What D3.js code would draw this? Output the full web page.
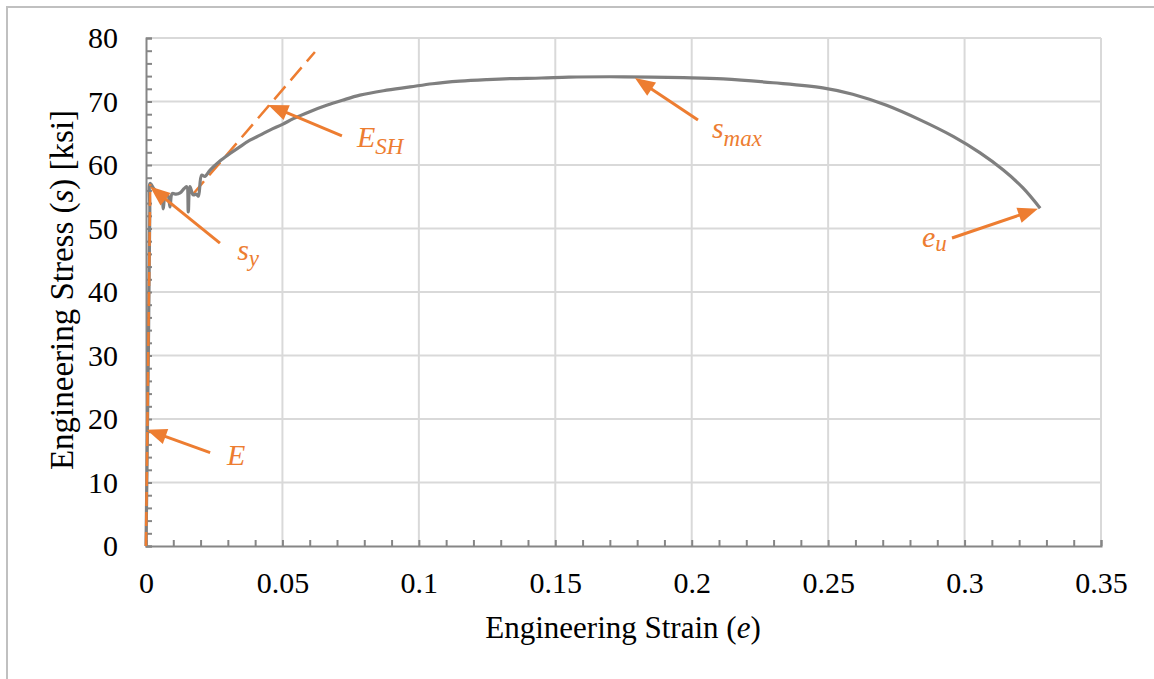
<!DOCTYPE html>
<html>
<head>
<meta charset="utf-8">
<script src="https://cdn.jsdelivr.net/npm/d3@7/dist/d3.min.js"></script>
<style>
  html, body { margin: 0; padding: 0; background: #ffffff; }
  svg { display: block; }
  text { font-family: "Liberation Serif", "Times New Roman", serif; }
</style>
</head>
<body>
<svg id="chart" width="1154" height="679"></svg>
<script>
// Engineering stress-strain curve of a steel coupon
const strain = [0, 0.0003, 0.0006, 0.0009, 0.0012, 0.0014, 0.0015, 0.0030, 0.0045, 0.0057,
  0.0063, 0.0070, 0.0080, 0.0088, 0.0096, 0.0110, 0.0125, 0.0140, 0.0149, 0.0155,
  0.0161, 0.0173, 0.0185, 0.0192, 0.0204, 0.0216, 0.0235, 0.0270, 0.0308, 0.0345,
  0.0381, 0.0418, 0.0454, 0.0500, 0.0540, 0.0600, 0.0662, 0.0720, 0.0784, 0.0870,
  0.0968, 0.1050, 0.1150, 0.1250, 0.1334, 0.1450, 0.1550, 0.1700, 0.1850, 0.1970,
  0.2115, 0.2298, 0.2480, 0.2590, 0.2714, 0.2837, 0.2958, 0.3057, 0.3142, 0.3214, 0.3277];
const stress = [0, 10, 21, 32, 45, 53, 57.1, 56.2, 55.6, 55.5,
  53.1, 55.0, 55.2, 53.4, 55.5, 55.4, 55.6, 56.3, 56.6, 52.6,
  56.6, 55.3, 55.4, 55.1, 58.4, 58.2, 59.2, 60.6, 61.8, 62.9,
  63.9, 64.7, 65.5, 66.4, 67.3, 68.4, 69.4, 70.2, 71.0, 71.7,
  72.3, 72.8, 73.2, 73.45, 73.6, 73.7, 73.85, 73.9, 73.85, 73.75,
  73.55, 72.95, 72.15, 71.15, 69.4, 67.1, 64.5, 61.9, 59.2, 56.4, 53.2];

// Elastic modulus (E) and strain-hardening modulus (E_SH) reference lines
const elasticLine = [[0, 0], [0.00155, 57]];
const hardeningLine = [[0.0172, 55.4], [0.0619, 77.8]];

// Axis ticks
const xTicks = [0, 0.05, 0.1, 0.15, 0.2, 0.25, 0.3, 0.35];
const xTickLabels = ["0", "0.05", "0.1", "0.15", "0.2", "0.25", "0.3", "0.35"];
const yTicks = [0, 10, 20, 30, 40, 50, 60, 70, 80];
const xMinorTicks = d3.range(0, 36).map(i => i / 100);
const yMinorTicks = d3.range(0, 41).map(i => i * 2);

// Callouts: arrow tail/tip and label anchor, in strain/stress units
const callouts = [
  { main: "E", sub: "",    tail: [0.0235, 14.7], tip: [0.00026, 18.3], at: [0.0297, 12.76], subDy: 0 },
  { main: "s", sub: "y",   tail: [0.0271, 47.7], tip: [0.00147, 56.6], at: [0.0334, 45.04], subDy: 6 },
  { main: "E", sub: "SH",  tail: [0.0718, 64.6], tip: [0.0448, 69.45], at: [0.0773, 62.83], subDy: 7 },
  { main: "s", sub: "max", tail: [0.2023, 67.1], tip: [0.1792, 73.7],  at: [0.2074, 64.25], subDy: 8 },
  { main: "e", sub: "u",   tail: [0.2954, 48.5], tip: [0.3269, 53.1],  at: [0.2844, 47.09], subDy: 4 }
];

const svg = d3.select("#chart");
const ORANGE = "#ED7D31";
const GREY = "#7f7f7f";
const AXIS = "#868686";
const GRID = "#d9d9d9";

// outer frame
svg.append("rect")
  .attr("x", 7).attr("y", 7).attr("width", 1170).attr("height", 700)
  .attr("fill", "none").attr("stroke", "#c0c0c0").attr("stroke-width", 2);

const x = d3.scaleLinear().domain([0, 0.35]).range([146, 1101]);
const y = d3.scaleLinear().domain([0, 80]).range([546, 38]);

// gridlines
const grid = svg.append("g");
grid.selectAll("line.v").data(xTicks.slice(1)).join("line")
  .attr("x1", d => x(d)).attr("x2", d => x(d))
  .attr("y1", y(0)).attr("y2", y(80))
  .attr("stroke", GRID).attr("stroke-width", 2);
grid.selectAll("line.h").data(yTicks.slice(1)).join("line")
  .attr("x1", x(0)).attr("x2", x(0.35))
  .attr("y1", d => y(d)).attr("y2", d => y(d))
  .attr("stroke", GRID).attr("stroke-width", 2);

// tick marks (inside) and labels
const xAxisTicks = svg.append("g").attr("transform", `translate(0,${y(0)})`)
  .call(d3.axisBottom(x).tickValues(xMinorTicks).tickSize(-6).tickFormat(""));
const yAxisTicks = svg.append("g").attr("transform", `translate(${x(0)},0)`)
  .call(d3.axisLeft(y).tickValues(yMinorTicks).tickSize(-6).tickFormat(""));
[xAxisTicks, yAxisTicks].forEach(g => {
  g.select(".domain").attr("stroke", AXIS).attr("stroke-width", 2);
  g.selectAll(".tick line").attr("stroke", AXIS).attr("stroke-width", 2);
});

const xLabels = svg.append("g").attr("transform", `translate(0,${y(0)})`)
  .call(d3.axisBottom(x).tickValues(xTicks).tickSize(0).tickPadding(26)
    .tickFormat((d, i) => xTickLabels[i]));
const yLabels = svg.append("g").attr("transform", `translate(${x(0)},0)`)
  .call(d3.axisLeft(y).tickValues(yTicks).tickSize(0).tickPadding(28));
[xLabels, yLabels].forEach(g => {
  g.select(".domain").remove();
  g.selectAll("text").attr("font-family", "Liberation Serif, Times New Roman, serif")
    .attr("font-size", 30).attr("fill", "#000");
});

// axis titles
const xt = svg.append("text").attr("x", 623).attr("y", 638)
  .attr("text-anchor", "middle").attr("font-size", 31).attr("fill", "#000");
xt.append("tspan").text("Engineering Strain (");
xt.append("tspan").attr("font-style", "italic").text("e");
xt.append("tspan").text(")");

const yt = svg.append("text").attr("transform", "translate(73,290) rotate(-90)")
  .attr("text-anchor", "middle").attr("font-size", 33).attr("fill", "#000");
yt.append("tspan").text("Engineering Stress (");
yt.append("tspan").attr("font-style", "italic").text("s");
yt.append("tspan").text(") [ksi]");

// reference lines
const straight = d3.line().x(d => x(d[0])).y(d => y(d[1]));
const smooth = d3.line().x(d => x(d[0])).y(d => y(d[1])).curve(d3.curveCatmullRom.alpha(0.5));

svg.append("path").datum(hardeningLine).attr("d", straight)
  .attr("fill", "none").attr("stroke", ORANGE).attr("stroke-width", 2.5)
  .attr("stroke-dasharray", "17,8");

// stress-strain curve
const curve = strain.map((e, i) => [e, stress[i]]);
svg.append("path").datum(curve).attr("d", smooth)
  .attr("fill", "none").attr("stroke", GREY).attr("stroke-width", 3.2)
  .attr("stroke-linejoin", "round");

svg.append("path").datum(elasticLine).attr("d", straight)
  .attr("fill", "none").attr("stroke", ORANGE).attr("stroke-width", 2.5)
  .attr("stroke-dasharray", "14,6");

// callout arrows and labels
const HEAD_LEN = 20, HEAD_HALF = 8;
callouts.forEach(c => {
  const tx = x(c.tail[0]), ty = y(c.tail[1]);
  const px = x(c.tip[0]), py = y(c.tip[1]);
  const dx = px - tx, dy = py - ty, len = Math.hypot(dx, dy);
  const ux = dx / len, uy = dy / len;
  const bx = px - ux * HEAD_LEN, by = py - uy * HEAD_LEN;
  svg.append("line")
    .attr("x1", tx).attr("y1", ty).attr("x2", bx + ux * 2).attr("y2", by + uy * 2)
    .attr("stroke", ORANGE).attr("stroke-width", 3);
  svg.append("path")
    .attr("d", `M${px},${py}L${bx - uy * HEAD_HALF},${by + ux * HEAD_HALF}L${bx + uy * HEAD_HALF},${by - ux * HEAD_HALF}Z`)
    .attr("fill", ORANGE);

  const t = svg.append("text").attr("x", x(c.at[0])).attr("y", y(c.at[1]))
    .attr("font-size", 30).attr("font-style", "italic").attr("fill", ORANGE);
  t.append("tspan").text(c.main);
  if (c.sub) {
    t.append("tspan").attr("font-size", 23).attr("dy", c.subDy).text(c.sub);
  }
});
</script>
</body>
</html>
